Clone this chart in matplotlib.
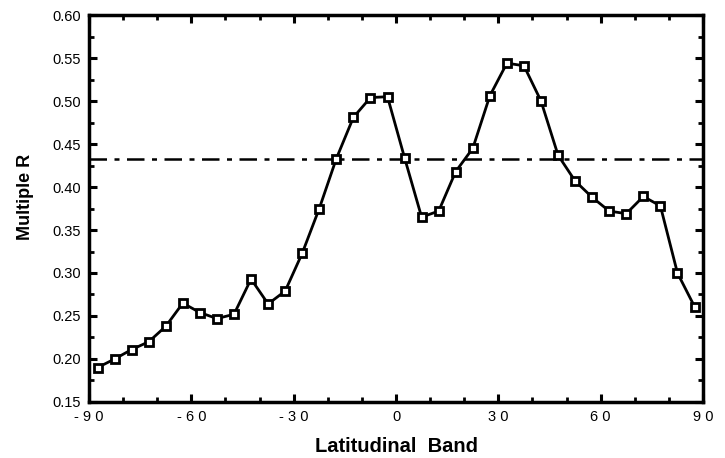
import numpy as np
import matplotlib.pyplot as plt
from matplotlib.ticker import MultipleLocator

plt.rcParams['font.family'] = ['Liberation Sans', 'DejaVu Sans']

# latitudinal band centres and multiple R
lat = [-87.5, -82.5, -77.5, -72.5, -67.5, -62.5, -57.5, -52.5, -47.5, -42.5,
       -37.5, -32.5, -27.5, -22.5, -17.5, -12.5, -7.5, -2.5, 2.5, 7.5,
       12.5, 17.5, 22.5, 27.5, 32.5, 37.5, 42.5, 47.5, 52.5, 57.5,
       62.5, 67.5, 72.5, 77.5, 82.5, 87.5]
mult_r = [0.190, 0.200, 0.211, 0.220, 0.238, 0.265, 0.254, 0.247, 0.252, 0.293,
          0.264, 0.279, 0.323, 0.375, 0.433, 0.481, 0.504, 0.505, 0.434, 0.365,
          0.372, 0.418, 0.445, 0.506, 0.544, 0.541, 0.500, 0.437, 0.407, 0.388,
          0.372, 0.369, 0.389, 0.378, 0.300, 0.261]
mean_r = 0.432

xticks = [-90, -60, -30, 0, 30, 60, 90]
xtick_labels = ['- 9 0', '- 6 0', '- 3 0', '0', '3 0', '6 0', '9 0']
yticks = [0.15, 0.20, 0.25, 0.30, 0.35, 0.40, 0.45, 0.50, 0.55, 0.60]

fig = plt.figure(figsize=(7.25, 4.58), dpi=100)
ax = fig.add_axes([0.1228, 0.1223, 0.8469, 0.8449])

ax.axhline(mean_r, color='black', lw=1.8, dashes=(7, 3, 2, 3))
ax.plot(lat, mult_r, color='black', lw=2, marker='s', ms=5.5,
        mfc='white', mec='black', mew=2)

ax.set_xlim(-90, 90)
ax.set_ylim(0.15, 0.60)
ax.set_xticks(xticks)
ax.set_xticklabels(xtick_labels)
ax.set_yticks(yticks)
ax.set_yticklabels([f'{v:.2f}' for v in yticks])
ax.xaxis.set_minor_locator(MultipleLocator(10))
ax.yaxis.set_minor_locator(MultipleLocator(0.025))

ax.tick_params(which='both', direction='in', top=True, right=True,
               labeltop=False, labelright=False, labelsize=10.5)
ax.tick_params(which='major', length=6, width=2.2, pad=6)
ax.tick_params(which='minor', length=3.5, width=2)
for s in ax.spines.values():
    s.set_linewidth(2.5)

ax.set_xlabel('Latitudinal  Band', fontsize=14.5, fontweight='bold', labelpad=9)
ax.set_ylabel('Multiple R', fontsize=13, fontweight='bold')
ax.yaxis.set_label_coords(-0.09, 0.53)

plt.savefig('out.png', dpi=100)
plt.close()
